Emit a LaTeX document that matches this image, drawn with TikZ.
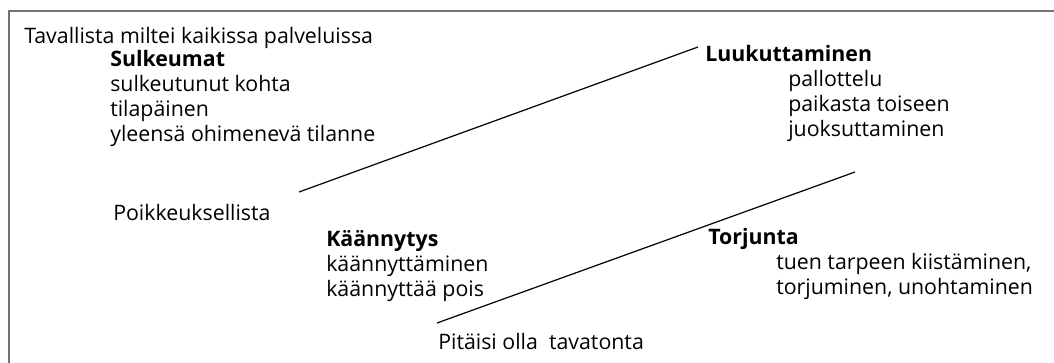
\documentclass[tikz,border=0pt]{standalone}
\usepackage{fontspec}
\setmainfont{Open Sans}
\definecolor{framegray}{rgb}{0.45, 0.45, 0.45}
\tikzset{txt/.style={anchor=base west, inner sep=0pt, align=left, font=\fontsize{16}{18.75}\selectfont}}
\tikzset{head/.style={txt, font=\fontsize{16}{18.75}\selectfont\bfseries}}
\tikzset{divider/.style={line width=0.9pt, color=black}}

\begin{document}
\begin{tikzpicture}[x=0.75pt, y=-0.75pt]%{{{
        \useasboundingbox (0,0) rectangle (1054,363);
        \draw [line width=1.6pt, color=framegray] (9,370) |- (1060,11);

        % multi-line nodes sit on the baseline of their last line
        \node[txt] (Tav) at (24, 44) {Tavallista miltei kaikissa palveluissa};
        \node[head] (Sul) at (110, 67) {Sulkeumat};
        \node[txt] (Sulk) at (110, 142) {sulkeutunut kohta\\tilapäinen\\yleensä ohimenevä tilanne};

        \node[head] (Luu) at (705, 62) {Luukuttaminen};
        \node[txt] (Luuk) at (788, 137) {pallottelu\\paikasta toiseen\\juoksuttaminen};

        \node[txt] (Poi) at (113, 221) {Poikkeuksellista};
        \node[head] (Kaa) at (326, 247) {Käännytys};
        \node[txt] (Kaan) at (326, 297) {käännyttäminen\\käännyttää pois};

        \node[head] (Tor) at (708, 245) {Torjunta};
        \node[txt] (Torj) at (776, 295) {tuen tarpeen kiistäminen,\\torjuminen, unohtaminen};

        \node[txt] (Pit) at (438, 350) {Pitäisi olla\ \ tavatonta};

        \coordinate (Aa) at (299, 192);
        \coordinate (Ab) at (698, 47);
        \coordinate (Ba) at (437, 323);
        \coordinate (Bb) at (855, 172);

        \draw [divider] (Aa) -- (Ab);
        \draw [divider] (Ba) -- (Bb);

    \end{tikzpicture}
\end{document}
